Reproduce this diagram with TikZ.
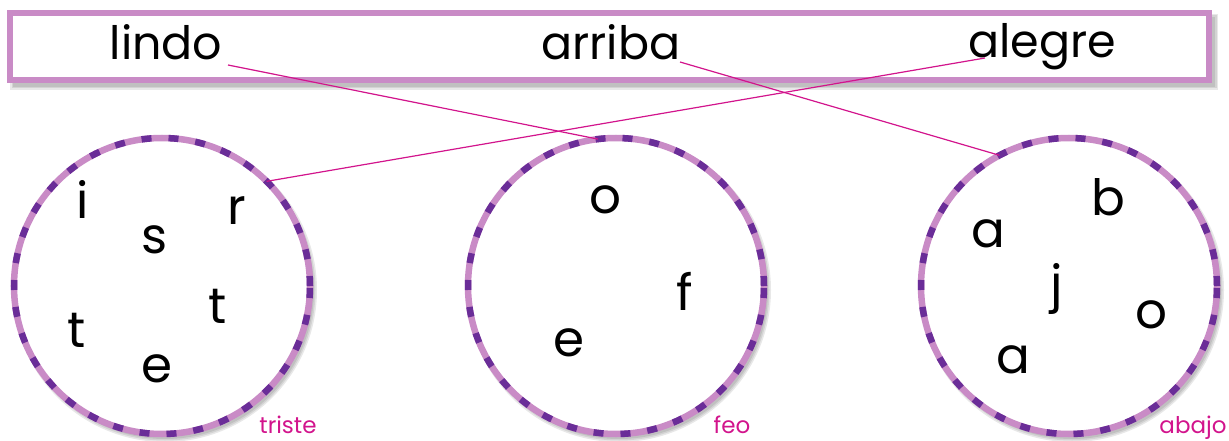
\documentclass[tikz,border=0pt]{standalone}
\usepackage{fontspec}
\setmainfont{Poppins}
\definecolor{lil}{HTML}{C98BC6}
\definecolor{dpur}{HTML}{6A2D98}
\definecolor{mag}{HTML}{D2148C}
\tikzset{
  word/.style={font=\fontsize{46}{46}\selectfont, anchor=base, inner sep=0pt},
  letter/.style={font=\fontsize{50}{50}\selectfont, anchor=base, inner sep=0pt},
  lab/.style={font=\fontsize{23}{23}\selectfont, text=mag, anchor=base, inner sep=0pt},
  topbox/.style={rectangle, draw=lil, line width=6pt, fill=white, inner sep=0pt, outer sep=0pt,
    minimum width=1199pt, minimum height=67.5pt},
  ring/.style={circle, minimum size=296pt, inner sep=0pt, outer sep=0pt, fill=white, draw=lil, line width=6.5pt,
    postaction={draw=dpur, line width=6.5pt, dash pattern=on 10pt off 17pt}},
  link/.style={draw=mag, line width=1.2pt},
  shade/.style={fill=black, opacity=0.09}
}
\begin{document}
\begin{tikzpicture}[x=1pt, y=-1pt]
\useasboundingbox (0,0) rectangle (1229,441);
% soft shadows
\foreach \g in {0,1.5,3}{
  \fill[shade] (13-\g,17-\g) rectangle (1215+\g,87+\g);
  \foreach \cx in {162,616,1069}{
    \fill[shade] (\cx+3,290) circle (149+\g);
  }
}
\node[topbox] (box) at (609.5,46.5) {};
\node[word] (lindo) at (166,60) {lindo};
\node[word] (arriba) at (611,60) {arriba};
\node[word] (alegre) at (1042,58) {alegre};

\node[ring] (cL) at (162,286) {};
\node[ring] (cM) at (616,286) {};
\node[ring] (cR) at (1069,286) {};

% left circle letters
\node[letter] (l1) at (83,218) {i};
\node[letter] (l2) at (155,253) {s};
\node[letter] (l3) at (237,224) {r};
\node[letter] (l4) at (218,323) {t};
\node[letter] (l5) at (77,347) {t};
\node[letter] (l6) at (157,382) {e};
% middle circle letters
\node[letter] (m1) at (605,213) {o};
\node[letter] (m2) at (685,310) {f};
\node[letter] (m3) at (569,356) {e};
% right circle letters
\node[letter] (r1) at (1108,215) {b};
\node[letter] (r2) at (988,247) {a};
\node[letter] (r3) at (1057,301) {j};
\node[letter] (r4) at (1151,328) {o};
\node[letter] (r5) at (1013,373) {a};

\node[lab] (tL) at (288,433) {triste};
\node[lab] (tM) at (732,433) {feo};
\node[lab] (tR) at (1193,433) {abajo};

\coordinate (pLindo) at (228,65);
\coordinate (pArriba) at (680,62);
\coordinate (pAlegre) at (985,58);
\draw[link] (pLindo) -- (cM.97);
\draw[link] (pArriba) -- (cR.118.6);
\draw[link] (pAlegre) -- (cL.45);
\end{tikzpicture}
\end{document}
